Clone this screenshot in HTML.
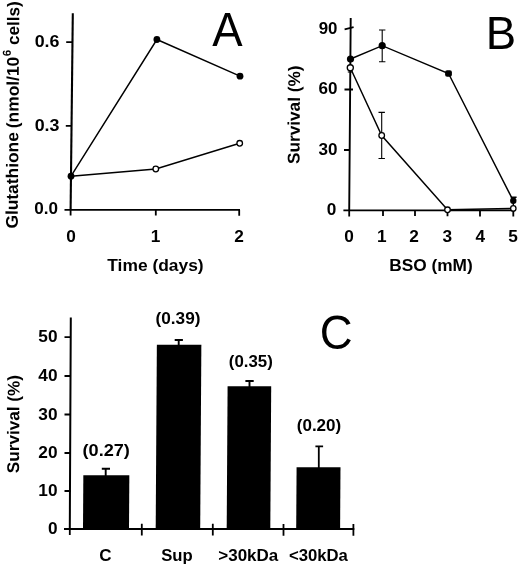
<!DOCTYPE html>
<html lang="en">
<head>
<meta charset="utf-8">
<title>Figure</title>
<style>
  html, body { margin: 0; padding: 0; background: #fff; }
  body { width: 520px; height: 566px; overflow: hidden; }
  svg { display: block; }
  text { font-family: "Liberation Sans", Arial, Helvetica, sans-serif; fill: #000; }
  .b { font-weight: bold; font-size: 17px; }
  .big { font-size: 45.5px; font-weight: normal; }
  .ax { stroke: #000; stroke-width: 1.8; fill: none; stroke-linecap: butt; }
  .ln { stroke: #000; stroke-width: 1.45; fill: none; }
  .eb { stroke: #000; stroke-width: 1.1; fill: none; }
  .fp { fill: #000; stroke: none; }
  .op { fill: #fff; stroke: #000; stroke-width: 1.3; }
  .bar { fill: #000; }
</style>
</head>
<body>
<svg width="520" height="566" viewBox="0 0 520 566">
  <rect x="0" y="0" width="520" height="566" fill="#ffffff"/>

  <!-- ================= Panel A ================= -->
  <g id="panelA">
    <!-- axes -->
    <path class="ax" style="stroke-width:2.1" d="M72.8 13.2 L70.6 210"/>
    <path class="ax" d="M64.5 209.8 H240"/>
    <!-- y ticks -->
    <path class="ax" d="M66.2 42.1 H72.5 M65.8 125.8 H71.6"/>
    <!-- x ticks -->
    <path class="ax" d="M70.6 209.8 V215.6 M155.8 209.8 V215.6 M239.2 209.8 V215.8"/>
    <!-- y tick labels -->
    <text class="b" x="59.5" y="47" text-anchor="end" textLength="24.8" lengthAdjust="spacingAndGlyphs">0.6</text>
    <text class="b" x="59.5" y="130.5" text-anchor="end" textLength="24.8" lengthAdjust="spacingAndGlyphs">0.3</text>
    <text class="b" x="58" y="214" text-anchor="end" textLength="23.8" lengthAdjust="spacingAndGlyphs">0.0</text>
    <!-- x tick labels -->
    <text class="b" x="71" y="241.6" text-anchor="middle" textLength="9.6" lengthAdjust="spacingAndGlyphs">0</text>
    <text class="b" x="155.5" y="241.6" text-anchor="middle" textLength="9.6" lengthAdjust="spacingAndGlyphs">1</text>
    <text class="b" x="239" y="241.6" text-anchor="middle" textLength="9.6" lengthAdjust="spacingAndGlyphs">2</text>
    <!-- axis titles -->
    <text class="b" x="107.3" y="270.5" textLength="96.3" lengthAdjust="spacingAndGlyphs">Time (days)</text>
    <g transform="translate(19.35 0) rotate(-89.59)">
      <text class="b" x="-228.6" y="0" textLength="96.4" lengthAdjust="spacingAndGlyphs">Glutathione</text>
      <text class="b" x="-128.2" y="0" textLength="71.4" lengthAdjust="spacingAndGlyphs">(nmol/10</text>
      <text class="b" x="-56.2" y="-8.2" style="font-size:11.5px">6</text>
      <text class="b" x="-45" y="0" textLength="43.8" lengthAdjust="spacingAndGlyphs">cells)</text>
    </g>
    <!-- data -->
    <polyline class="ln" points="71,176.2 156.9,39.5 240,76.2"/>
    <polyline class="ln" points="71,176.2 155.8,169 239.7,143.3"/>
    <circle class="fp" cx="71" cy="176.2" r="3.4"/>
    <circle class="fp" cx="156.9" cy="39.5" r="3.4"/>
    <circle class="fp" cx="240" cy="76.2" r="3.4"/>
    <circle class="op" cx="155.8" cy="169" r="2.8"/>
    <circle class="op" cx="239.7" cy="143.3" r="2.8"/>
    <!-- panel letter -->
    <text class="big" transform="translate(227.3 45.9) scale(1 1.06)" text-anchor="middle">A</text>
  </g>

  <!-- ================= Panel B ================= -->
  <g id="panelB">
    <path class="ax" style="stroke-width:1.9" d="M350.7 18 L349.2 210.5 M343.4 210.4 H514"/>
    <path class="ax" d="M344.6 29.4 L353.6 27.2 M344.5 89.5 H353 M344 150 H350"/>
    <path class="ax" d="M349.2 210 V216.5 M383 210 V216 M415 210 V216 M447.5 210 V216.3 M480 210 V216.5 M513.3 210 V216.5"/>
    <!-- y tick labels -->
    <text class="b" x="337.5" y="33.8" text-anchor="end" textLength="18.8" lengthAdjust="spacingAndGlyphs">90</text>
    <text class="b" x="337.4" y="94" text-anchor="end" textLength="19" lengthAdjust="spacingAndGlyphs">60</text>
    <text class="b" x="337.4" y="154.6" text-anchor="end" textLength="19" lengthAdjust="spacingAndGlyphs">30</text>
    <text class="b" x="336.3" y="214.6" text-anchor="end" textLength="9.6" lengthAdjust="spacingAndGlyphs">0</text>
    <!-- x tick labels -->
    <text class="b" x="349" y="241.8" text-anchor="middle" textLength="9.6" lengthAdjust="spacingAndGlyphs">0</text>
    <text class="b" x="381.7" y="241.8" text-anchor="middle" textLength="9.6" lengthAdjust="spacingAndGlyphs">1</text>
    <text class="b" x="414" y="241.8" text-anchor="middle" textLength="9.6" lengthAdjust="spacingAndGlyphs">2</text>
    <text class="b" x="447.2" y="241.8" text-anchor="middle" textLength="9.6" lengthAdjust="spacingAndGlyphs">3</text>
    <text class="b" x="480.2" y="241.8" text-anchor="middle" textLength="9.6" lengthAdjust="spacingAndGlyphs">4</text>
    <text class="b" x="513" y="241.8" text-anchor="middle" textLength="9.6" lengthAdjust="spacingAndGlyphs">5</text>
    <!-- axis titles -->
    <text class="b" x="389.2" y="271.3" textLength="83.5" lengthAdjust="spacingAndGlyphs">BSO (mM)</text>
    <g transform="translate(299.5 164) rotate(-89.6)">
      <text class="b" x="0" y="0" textLength="98.5" lengthAdjust="spacingAndGlyphs">Survival (%)</text>
    </g>
    <!-- error bars -->
    <path class="eb" d="M382.2 30 V61.7 M379 30 H385.4 M379 61.7 H385.4"/>
    <path class="eb" d="M381.7 112.4 V158.5 M378.5 112.4 H384.9 M378.5 158.5 H384.9"/>
    <path class="eb" style="stroke-width:1.4" d="M513.3 197.3 V205 M510.8 197.3 H516.6"/>
    <!-- data lines -->
    <polyline class="ln" points="350.5,59 382.2,45.7 448.5,73.5 513.3,200.8"/>
    <polyline class="ln" points="350.3,67.8 381.7,135.5 447.5,209.8 513.3,208.4"/>
    <circle class="fp" cx="350.5" cy="59" r="3.6"/>
    <circle class="fp" cx="382.2" cy="45.7" r="3.6"/>
    <rect class="fp" x="445.1" y="70.2" width="6.8" height="6.6" rx="2"/>
    <circle class="fp" cx="513.3" cy="200.8" r="3.2"/>
    <path class="eb" d="M347.8 72 H352.8"/>
    <circle class="op" cx="350.3" cy="67.8" r="3.05"/>
    <circle class="op" cx="381.7" cy="135.5" r="2.8"/>
    <circle class="op" cx="447.5" cy="209.8" r="2.8"/>
    <circle class="op" cx="513.3" cy="208.4" r="2.7"/>
    <text class="big" transform="translate(500.8 49.1) scale(1 1.03)" text-anchor="middle">B</text>
  </g>

  <!-- ================= Panel C ================= -->
  <g id="panelC">
    <path class="ax" style="stroke-width:2" d="M70.8 317.5 L69.8 529 M64 528.9 H354.3"/>
    <path class="ax" d="M64.5 337.2 H71 M64.5 376 H71 M64.5 414.5 H71 M64.5 453 H71 M64.5 491 H71"/>
    <path class="ax" d="M69.8 529 V535 M141.8 523.8 V535.5 M212.8 523.8 V535.5 M283.5 524 V535.8 M353.4 524 V535.8"/>
    <!-- y tick labels -->
    <text class="b" x="57.5" y="342.1" text-anchor="end" textLength="19.2" lengthAdjust="spacingAndGlyphs">50</text>
    <text class="b" x="57.5" y="381.1" text-anchor="end" textLength="19.2" lengthAdjust="spacingAndGlyphs">40</text>
    <text class="b" x="57.5" y="419.6" text-anchor="end" textLength="19.2" lengthAdjust="spacingAndGlyphs">30</text>
    <text class="b" x="57.5" y="458.1" text-anchor="end" textLength="19.2" lengthAdjust="spacingAndGlyphs">20</text>
    <text class="b" x="57.5" y="496.1" text-anchor="end" textLength="19.2" lengthAdjust="spacingAndGlyphs">10</text>
    <text class="b" x="57.5" y="534.3" text-anchor="end" textLength="9.6" lengthAdjust="spacingAndGlyphs">0</text>
    <g transform="translate(18.9 473.2) rotate(-89.6)">
      <text class="b" x="0" y="0" textLength="98.2" lengthAdjust="spacingAndGlyphs">Survival (%)</text>
    </g>
    <!-- bars -->
    <g transform="translate(0 529) skewX(-0.36) translate(0 -529)">
    <rect class="bar" x="83" y="475.3" width="46" height="53.7"/>
    <rect class="bar" x="155.7" y="344.8" width="44.5" height="184.2"/>
    <rect class="bar" x="226.7" y="386.2" width="43.6" height="142.8"/>
    <rect class="bar" x="296.2" y="467.2" width="43.9" height="61.8"/>
    </g>
    <!-- error bars -->
    <path class="ax" style="stroke-width:1.9" d="M105.7 468.8 V476 M101.8 468.8 H110"/>
    <path class="ax" style="stroke-width:1.9" d="M178.7 340 V346 M174.7 340 H182.9"/>
    <path class="ax" style="stroke-width:1.9" d="M249.5 381 V387 M245.4 381 H253.7"/>
    <path class="ax" style="stroke-width:1.8" d="M318.8 446.3 V468 M315.4 446.3 H323.1"/>
    <!-- value labels -->
    <text class="b" x="106.2" y="456.4" text-anchor="middle" textLength="47.4" lengthAdjust="spacingAndGlyphs">(0.27)</text>
    <text class="b" x="178" y="324.4" text-anchor="middle" textLength="45" lengthAdjust="spacingAndGlyphs">(0.39)</text>
    <text class="b" x="250.8" y="367" text-anchor="middle" textLength="44" lengthAdjust="spacingAndGlyphs">(0.35)</text>
    <text class="b" x="319" y="431" text-anchor="middle" textLength="44.5" lengthAdjust="spacingAndGlyphs">(0.20)</text>
    <!-- category labels -->
    <text class="b" x="105.4" y="561" text-anchor="middle">C</text>
    <text class="b" x="177" y="561" text-anchor="middle" textLength="31.5" lengthAdjust="spacingAndGlyphs">Sup</text>
    <text class="b" x="218.3" y="561" textLength="60" lengthAdjust="spacingAndGlyphs">&gt;30kDa</text>
    <text class="b" x="288.9" y="561" textLength="59" lengthAdjust="spacingAndGlyphs">&lt;30kDa</text>
    <text class="big" transform="translate(336.2 349.3) scale(1 1.07)" text-anchor="middle">C</text>
  </g>
</svg>
</body>
</html>
